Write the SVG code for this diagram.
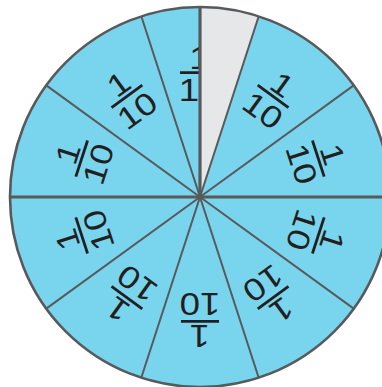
<svg xmlns="http://www.w3.org/2000/svg" width="382" height="387" viewBox="0 0 382 387">
  <style>
    .fig { font-family: "Liberation Sans", Arial, sans-serif; font-size: 31px; fill: #231f20; text-anchor: middle; }
    .bar { stroke: #231f20; stroke-width: 2.8; }
    .spoke { stroke: #58595b; stroke-width: 2; }
    .axis { stroke: #58595b; stroke-width: 3.2; }
  </style>
  <defs>
    <g id="tenth">
      <line class="bar" x1="-19" y1="0" x2="19" y2="0"/>
      <text class="fig" x="0.5" y="-4" textLength="20.3" lengthAdjust="spacingAndGlyphs">1</text>
      <text class="fig" x="0" y="28.3" textLength="40.7" lengthAdjust="spacingAndGlyphs">10</text>
    </g>
  </defs>
  <rect width="382" height="387" fill="#ffffff"/>
  <g id="wheel">
    <circle id="disk" cx="200" cy="197" r="190" fill="#79d5ee"/>
  </g>
  <g id="labels">
    <use id="label-0" href="#tenth" transform="translate(199,72.7) rotate(0)"/>
    <use id="label-36" href="#tenth" transform="translate(273.1,96.4) rotate(36)"/>
    <use id="label-72" href="#tenth" transform="translate(318.3,158.6) rotate(72)"/>
    <use id="label-108" href="#tenth" transform="translate(318.3,235.4) rotate(108)"/>
    <use id="label-144" href="#tenth" transform="translate(273.1,297.6) rotate(144)"/>
    <use id="label-180" href="#tenth" transform="translate(200,321.3) rotate(180)"/>
    <use id="label-216" href="#tenth" transform="translate(126.9,297.6) rotate(216)"/>
    <use id="label-252" href="#tenth" transform="translate(81.7,235.4) rotate(252)"/>
    <use id="label-288" href="#tenth" transform="translate(81.7,158.6) rotate(288)"/>
    <use id="label-324" href="#tenth" transform="translate(126.9,96.4) rotate(324)"/>
  </g>
  <g id="shaded">
    <path d="M200,197 L200,7 A190,190 0 0 1 258.71,16.30 Z" fill="#e6e7e9"/>
  </g>
  <g id="connectors">
    <line class="spoke" x1="200" y1="197" x2="258.71" y2="16.30"/>
    <line class="spoke" x1="200" y1="197" x2="353.71" y2="85.32"/>
    <line class="spoke" x1="200" y1="197" x2="353.71" y2="308.68"/>
    <line class="spoke" x1="200" y1="197" x2="258.71" y2="377.70"/>
    <line class="spoke" x1="200" y1="197" x2="141.29" y2="377.70"/>
    <line class="spoke" x1="200" y1="197" x2="46.29" y2="308.68"/>
    <line class="spoke" x1="200" y1="197" x2="46.29" y2="85.32"/>
    <line class="spoke" x1="200" y1="197" x2="141.29" y2="16.30"/>
    <line class="axis" x1="200" y1="197" x2="200" y2="7"/>
    <line class="axis" x1="10" y1="197" x2="390" y2="197"/>
  </g>
  <circle id="rim" cx="200" cy="197" r="190" fill="none" stroke="#58595b" stroke-width="2.6"/>
</svg>
